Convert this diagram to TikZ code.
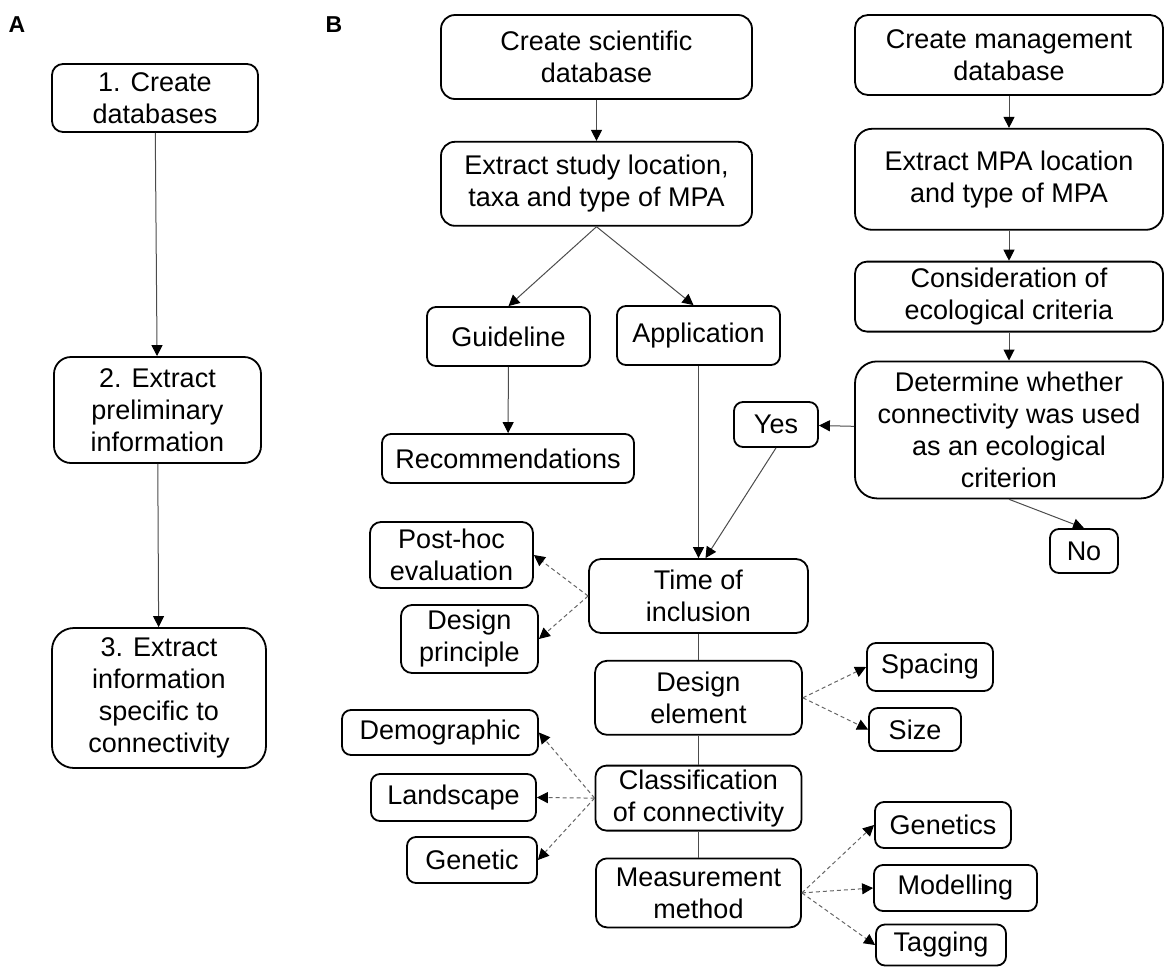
\documentclass[tikz,border=0pt]{standalone}
\usepackage{fontspec}
\setmainfont{Liberation Sans}
\usetikzlibrary{arrows.meta,positioning}

\begin{document}
\begin{tikzpicture}[
    x=1pt, y=-1pt,
    every node/.style={font=\fontsize{27}{32}\selectfont},
    box/.style={rectangle, draw=black, line width=1.8pt, rounded corners=9pt, align=center, inner sep=0pt},
    panel/.style={font=\fontsize{23}{26}\selectfont\bfseries},
    arrow/.style={-{Triangle[length=11pt,width=11pt,color=black]}, line width=1pt, black!70},
    link/.style={line width=1pt, black!70},
    dasharrow/.style={-{Triangle[length=11pt,width=11pt,color=black]}, line width=1pt, black!60, dash pattern=on 4pt off 3pt}
]
    \useasboundingbox (0,0) rectangle (1165,967);

    % Panel labels
    \node[panel] (labA) at (17,25) {A};
    \node[panel] (labB) at (334,25) {B};

    % Panel A
    \node[box, minimum width=206pt, minimum height=68pt, rounded corners=11pt] (crdb) at (155,98) {1. Create\\databases};
    \node[box, minimum width=207pt, minimum height=106pt, rounded corners=17pt] (exprel) at (157.5,410) {2. Extract\\preliminary\\information};
    \node[box, minimum width=214pt, minimum height=140pt, rounded corners=22pt] (excon) at (159,698) {3. Extract\\information\\specific to\\connectivity};
    \draw[arrow] (crdb) -- (exprel);
    \draw[arrow] (exprel) -- (excon);

    % Panel B: scientific database
    \node[box, minimum width=311pt, minimum height=84pt, rounded corners=14pt] (scidb) at (596.5,57) {Create scientific\\database};
    \node[box, minimum width=311pt, minimum height=84pt, rounded corners=14pt, below=41pt of scidb] (exstudy) {Extract study location,\\taxa and type of MPA};
    \node[box, minimum width=163pt, minimum height=59pt] (guide) at (508.5,336.5) {Guideline};
    \node[box, minimum width=163pt, minimum height=59pt] (appl) at (698.5,335.5) {Application};
    \node[box, minimum width=252pt, minimum height=49pt] (recom) at (508,458.5) {Recommendations};
    \draw[arrow] (scidb) -- (exstudy);
    \draw[arrow] (exstudy.south) -- (guide.north);
    \draw[arrow] (exstudy.south) -- ([xshift=-5pt]appl.north);
    \draw[arrow] (guide) -- (recom);

    % Panel B: management database
    \node[box, minimum width=308pt, minimum height=80pt, rounded corners=13pt] (mgmtdb) at (1009,55) {Create management\\database};
    \node[box, minimum width=308pt, minimum height=101pt, rounded corners=17pt, below=32pt of mgmtdb] (exmpa) {Extract MPA location\\and type of MPA};
    \node[box, minimum width=308pt, minimum height=70pt, rounded corners=12pt, below=30pt of exmpa] (consid) {Consideration of\\ecological criteria};
    \node[box, minimum width=308pt, minimum height=137pt, rounded corners=22pt, below=28pt of consid] (determ) {Determine whether\\connectivity was used\\as an ecological\\criterion};
    \node[box, minimum width=84pt, minimum height=45pt] (yes) at (776,424.5) {Yes};
    \node[box, minimum width=68pt, minimum height=44pt] (no) at (1084,551) {No};
    \draw[arrow] (mgmtdb) -- (exmpa);
    \draw[arrow] (exmpa) -- (consid);
    \draw[arrow] (consid) -- (determ);
    \draw[arrow] (determ) -- (yes);
    \draw[arrow] (determ.south) -- (no.north);

    % Central chain
    \node[box, minimum width=219pt, minimum height=74pt, rounded corners=12pt] (timeinc) at (698.5,596) {Time of\\inclusion};
    \node[box, minimum width=207pt, minimum height=74pt, rounded corners=12pt, below=26pt of timeinc] (deselem) {Design\\element};
    \node[box, minimum width=206pt, minimum height=65pt, rounded corners=11pt, below=29pt of deselem] (classif) {Classification\\of connectivity};
    \node[box, minimum width=205pt, minimum height=69pt, rounded corners=11pt, below=26pt of classif] (measure) {Measurement\\method};
    \draw[arrow] (appl) -- (timeinc);
    \draw[arrow] (yes.south) -- ([xshift=7pt]timeinc.north);
    \draw[link] (timeinc) -- (deselem);
    \draw[link] (deselem) -- (classif);
    \draw[link] (classif) -- (measure);

    % Side branches
    \node[box, minimum width=163pt, minimum height=66pt, rounded corners=11pt] (posthoc) at (451.5,555) {Post-hoc\\evaluation};
    \node[box, minimum width=137pt, minimum height=68pt, rounded corners=11pt] (desprin) at (469.5,639) {Design\\principle};
    \node[box, minimum width=196pt, minimum height=45pt] (demog) at (440,732.5) {Demographic};
    \node[box, minimum width=165pt, minimum height=47pt] (landsc) at (453.5,797.5) {Landscape};
    \node[box, minimum width=130pt, minimum height=46pt] (genetic) at (472,860) {Genetic};
    \node[box, minimum width=126pt, minimum height=48pt] (spacing) at (930,667) {Spacing};
    \node[box, minimum width=92pt, minimum height=43pt] (size) at (915,729.5) {Size};
    \node[box, minimum width=136pt, minimum height=46pt] (genetics) at (943,825) {Genetics};
    \node[box, minimum width=163pt, minimum height=46pt] (modell) at (955.5,888) {Modelling};
    \node[box, minimum width=130pt, minimum height=41pt] (tagging) at (941,945) {Tagging};

    \draw[dasharrow] (timeinc.west) -- (posthoc.east);
    \draw[dasharrow] (timeinc.west) -- (desprin.east);
    \draw[dasharrow] (classif.west) -- (demog.east);
    \draw[dasharrow] (classif.west) -- (landsc.east);
    \draw[dasharrow] (classif.west) -- (genetic.east);
    \draw[dasharrow] (deselem.east) -- (spacing.west);
    \draw[dasharrow] (deselem.east) -- (size.west);
    \draw[dasharrow] (measure.east) -- (genetics.west);
    \draw[dasharrow] (measure.east) -- (modell.west);
    \draw[dasharrow] (measure.east) -- (tagging.west);
\end{tikzpicture}
\end{document}
